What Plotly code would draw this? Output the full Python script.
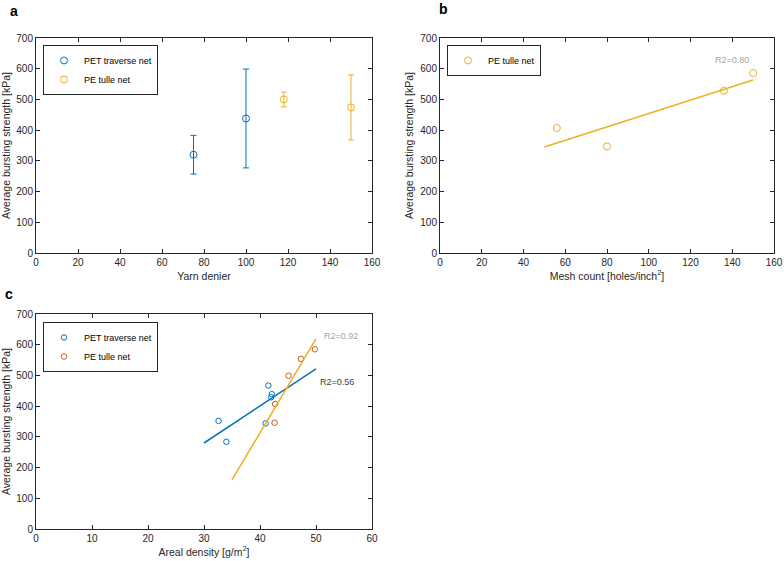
import plotly.graph_objects as go

# Panel a: yarn denier vs bursting strength (mean +/- error)
a_pet_x = [75, 100]
a_pet_y = [320, 438]
a_pet_err = [63, 161]
a_pe_x = [118, 150]
a_pe_y = [500, 474]
a_pe_err = [24, 106]

# Panel b: mesh count
b_pe_x = [56, 80, 136, 150]
b_pe_y = [407, 347, 528, 586]
b_fit_x = [50, 150]
b_fit_y = [345, 563]

# Panel c: areal density
c_pet_x = [32.6, 34.0, 41.0, 41.5, 42.1, 42.0]
c_pet_y = [352, 284, 344, 467, 439, 429]
c_pe_x = [42.6, 42.7, 45.1, 47.3, 49.8]
c_pe_y = [346, 407, 499, 554, 585]
c_pet_fit_x = [30, 50]
c_pet_fit_y = [280, 521]
c_pe_fit_x = [35, 50]
c_pe_fit_y = [160, 619]

BLUE = "#0072BD"
ORANGE = "#D95319"
YELLOW = "#EDB120"
AX = "#262626"
FONT = "Liberation Sans, Arial, Helvetica, sans-serif"

fig = go.Figure()

# Panel a
fig.add_trace(go.Scatter(x=a_pet_x, y=a_pet_y, mode="markers", name="PET traverse net",
                         marker=dict(symbol="circle-open", size=7, color=BLUE, line=dict(width=1)),
                         error_y=dict(type="data", array=a_pet_err, color=BLUE, thickness=1, width=3),
                         xaxis="x", yaxis="y", legend="legend"))
fig.add_trace(go.Scatter(x=a_pe_x, y=a_pe_y, mode="markers", name="PE tulle net",
                         marker=dict(symbol="circle-open", size=7, color=YELLOW, line=dict(width=1)),
                         error_y=dict(type="data", array=a_pe_err, color=YELLOW, thickness=1, width=3),
                         xaxis="x", yaxis="y", legend="legend"))

# Panel b
fig.add_trace(go.Scatter(x=b_pe_x, y=b_pe_y, mode="markers", name="PE tulle net",
                         marker=dict(symbol="circle-open", size=7, color=YELLOW, line=dict(width=1)),
                         xaxis="x2", yaxis="y2", legend="legend2"))
fig.add_trace(go.Scatter(x=b_fit_x, y=b_fit_y, mode="lines", showlegend=False,
                         line=dict(color=YELLOW, width=1.5), xaxis="x2", yaxis="y2"))

# Panel c
fig.add_trace(go.Scatter(x=c_pet_x, y=c_pet_y, mode="markers", name="PET traverse net",
                         marker=dict(symbol="circle-open", size=5.5, color=BLUE, line=dict(width=1)),
                         xaxis="x3", yaxis="y3", legend="legend3"))
fig.add_trace(go.Scatter(x=c_pe_x, y=c_pe_y, mode="markers", name="PE tulle net",
                         marker=dict(symbol="circle-open", size=5.5, color=ORANGE, line=dict(width=1)),
                         xaxis="x3", yaxis="y3", legend="legend3"))
fig.add_trace(go.Scatter(x=c_pet_fit_x, y=c_pet_fit_y, mode="lines", showlegend=False,
                         line=dict(color=BLUE, width=1.5), xaxis="x3", yaxis="y3"))
fig.add_trace(go.Scatter(x=c_pe_fit_x, y=c_pe_fit_y, mode="lines", showlegend=False,
                         line=dict(color=YELLOW, width=1.5), xaxis="x3", yaxis="y3"))

W, H = 784, 561
def px(x):
    return x / W
def py(y):
    return 1 - y / H

axis_common = dict(showline=True, linecolor=AX, linewidth=1, mirror="ticks", ticks="inside",
                   ticklen=4, tickcolor=AX, showgrid=False, zeroline=False, automargin=False,
                   tickfont=dict(family=FONT, size=10, color=AX),
                   title_font=dict(family=FONT, size=10.5, color=AX))

ytitle = "Average bursting strength [kPa]"

legend_common = dict(bgcolor="white", bordercolor=AX, borderwidth=1,
                     font=dict(family=FONT, size=9, color="#000000"),
                     xanchor="left", yanchor="top", tracegroupgap=0, itemwidth=30)

fig.update_layout(
    width=W, height=H, margin=dict(l=0, r=0, t=0, b=0, autoexpand=False),
    paper_bgcolor="white", plot_bgcolor="white",
    font=dict(family=FONT, color=AX),
    xaxis=dict(domain=[px(36), px(372)], range=[0, 160], dtick=20, anchor="y",
               title=dict(text="Yarn denier", standoff=5), **axis_common),
    yaxis=dict(domain=[py(253), py(38)], range=[0, 700], dtick=100, anchor="x",
               title=dict(text=ytitle, standoff=4), **axis_common),
    xaxis2=dict(domain=[px(440), px(774)], range=[0, 160], dtick=20, anchor="y2",
                title=dict(text="Mesh count [holes/inch<sup>2</sup>]", standoff=5), **axis_common),
    yaxis2=dict(domain=[py(253), py(38)], range=[0, 700], dtick=100, anchor="x2",
                title=dict(text=ytitle, standoff=4), **axis_common),
    xaxis3=dict(domain=[px(36), px(372)], range=[0, 60], dtick=10, anchor="y3",
                title=dict(text="Areal density [g/m<sup>2</sup>]", standoff=5), **axis_common),
    yaxis3=dict(domain=[py(529), py(314)], range=[0, 700], dtick=100, anchor="x3",
                title=dict(text=ytitle, standoff=4), **axis_common),
    legend=dict(x=px(43), y=py(45), **legend_common),
    legend2=dict(x=px(447), y=py(45), **legend_common),
    legend3=dict(x=px(43), y=py(322), **legend_common),
    showlegend=True,
)

annots = [
    dict(text="<b>a</b>", x=px(8), y=py(11), xref="paper", yref="paper", showarrow=False,
         font=dict(family=FONT, size=14, color="black"), xanchor="left", yanchor="middle"),
    dict(text="<b>b</b>", x=px(437), y=py(9), xref="paper", yref="paper", showarrow=False,
         font=dict(family=FONT, size=14, color="black"), xanchor="left", yanchor="middle"),
    dict(text="<b>c</b>", x=px(3), y=py(294), xref="paper", yref="paper", showarrow=False,
         font=dict(family=FONT, size=14, color="black"), xanchor="left", yanchor="middle"),
    dict(text="R2=0.80", x=130.6, y=628, xref="x2", yref="y2", showarrow=False,
         font=dict(family=FONT, size=9, color="#A6A6A6"), xanchor="left"),
    dict(text="R2=0.92", x=51.1, y=630, xref="x3", yref="y3", showarrow=False,
         font=dict(family=FONT, size=9, color="#A6A6A6"), xanchor="left"),
    dict(text="R2=0.56", x=50.3, y=477, xref="x3", yref="y3", showarrow=False,
         font=dict(family=FONT, size=9, color="#404040"), xanchor="left"),
]
fig.update_layout(annotations=annots)

fig.write_html("out.html", config={"displayModeBar": False},
               post_script="document.body.style.margin='0';document.body.style.overflow='hidden';")
